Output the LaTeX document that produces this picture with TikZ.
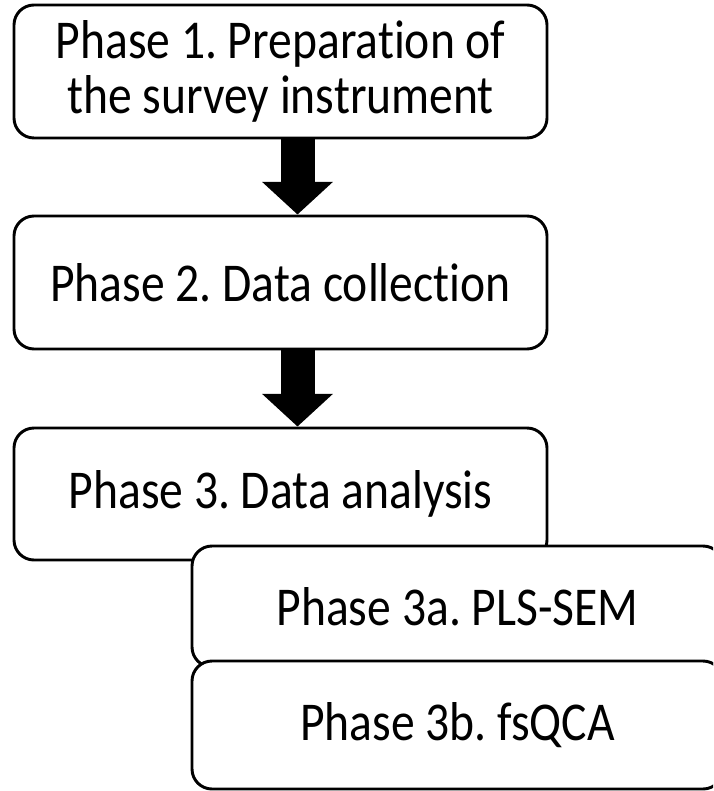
\documentclass[tikz,border=0pt]{standalone}
\usepackage{fontspec}
\setmainfont[Ligatures=NoCommon]{Carlito}
\usetikzlibrary{arrows.meta}
\newcommand{\tallt}[1]{\scalebox{1}[1.15]{#1}}
\begin{document}
\frenchspacing
\begin{tikzpicture}[x=0.75pt,y=-0.75pt,
  phasebox/.style={draw=black,line width=2.2pt,rounded corners=15pt,fill=white,
    align=center,inner sep=0pt,font=\fontsize{35.7}{36}\selectfont\frenchspacing},
  bigarrow/.style={line width=25.5pt,draw=black,
    -{Triangle[width=51.75pt,length=24.5pt,fill=black]}}]
\useasboundingbox (0,0) rectangle (713,791);
\clip (0,0) rectangle (713,791);
\node[phasebox,minimum width=533*0.75pt,minimum height=133*0.75pt] (b1) at (280.5,71.5)
  {\tallt{Phase 1. Preparation of}\\[5pt]\tallt{the survey instrument}};
\node[phasebox,minimum width=533*0.75pt,minimum height=133*0.75pt] (b2) at (280.5,282.5)
  {\tallt{Phase 2. Data collection}};
\node[phasebox,minimum width=533*0.75pt,minimum height=132*0.75pt] (b3) at (280.5,494)
  {\tallt{Phase 3. Data analysis}};
\node[phasebox,minimum width=531*0.75pt,minimum height=121*0.75pt] (b3a) at (457.5,606.5)
  {\tallt{Phase 3a. PLS-SEM}};
\node[phasebox,minimum width=531*0.75pt,minimum height=128*0.75pt] (b3b) at (457.5,725)
  {\tallt{Phase 3b. fsQCA}};
\coordinate (a1s) at ([xshift=17*0.75pt]b1.south);
\coordinate (a1e) at ([xshift=17*0.75pt]b2.north);
\coordinate (a2s) at ([xshift=17*0.75pt]b2.south);
\coordinate (a2e) at ([xshift=17*0.75pt]b3.north);
\draw[bigarrow] (a1s) -- (a1e);
\draw[bigarrow] (a2s) -- (a2e);
\end{tikzpicture}
\end{document}
